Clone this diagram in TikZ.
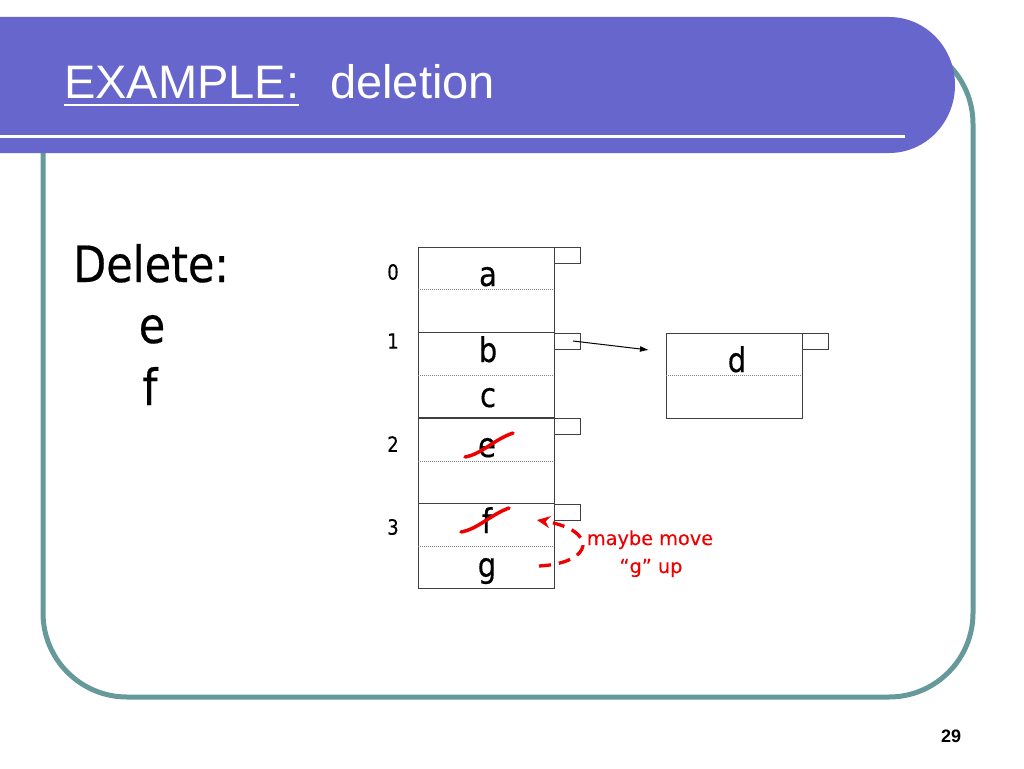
\documentclass[tikz,border=0pt]{standalone}
\usepackage{fontspec}
\usetikzlibrary{arrows.meta}
\newfontfamily\titlefont{Liberation Sans}
\newfontfamily\tahomafont[FakeStretch=0.86,FakeBold=0.3]{DejaVu Sans}
\newfontfamily\verdanafont[FakeBold=0.2]{DejaVu Sans}
\definecolor{barcol}{HTML}{6666CC}
\definecolor{framecol}{HTML}{669999}
\definecolor{cellline}{HTML}{404040}
\definecolor{notered}{HTML}{EE0000}
\begin{document}
\begin{tikzpicture}[x=1pt,y=-1pt,
  bucket/.style={draw=cellline, line width=0.9pt, minimum width=136pt, minimum height=85pt, inner sep=0pt, outer sep=0pt},
  ptrbox/.style={draw=cellline, line width=0.9pt, minimum width=26pt, minimum height=16pt, inner sep=0pt, outer sep=0pt},
  dotline/.style={draw=gray, line width=0.8pt, dash pattern=on 1pt off 1pt},
  cell/.style={font=\tahomafont\fontsize{34}{40}\selectfont, anchor=base, inner sep=0pt},
  idx/.style={font=\tahomafont\fontsize{21}{24}\selectfont, anchor=center, inner sep=0pt},
  big/.style={font=\tahomafont\fontsize{50}{60}\selectfont, anchor=base, inner sep=0pt},
  strike/.style={draw=notered, line width=3.5pt, line cap=round},
  note/.style={font=\verdanafont\fontsize{19.3}{23}\selectfont, text=notered, anchor=base, inner sep=0pt}
]
\useasboundingbox (0,0) rectangle (1024,768);
\fill[white] (0,0) rectangle (1024,768);
% frame
\draw[framecol, line width=5pt, rounded corners=84pt] (43,40) rectangle (973,697);
% title bar
\fill[barcol] (0,17) -- (889,17) to[out=0,in=90] (955,85) to[out=-90,in=0] (889,153) -- (0,153) -- cycle;
\draw[white, line width=3pt] (0,136.5) -- (905,136.5);
\node[font=\titlefont\fontsize{47}{56}\selectfont, text=white, anchor=base west, inner sep=0pt] (t1) at (64,98) {EXAMPLE:};
\draw[white, line width=2pt] ([yshift=-7pt]t1.base west) -- ([yshift=-7pt]t1.base east);
\node[font=\titlefont\fontsize{47}{56}\selectfont, text=white, anchor=base west, inner sep=0pt] (t2) at (330,98) {deletion};
% left text
\node[big, anchor=base west] (del) at (73,282) {Delete:};
\node[big] (dele) at (152,343) {e};
\node[big] (delf) at (150,405) {f};
% buckets
\node[bucket] (b0) at (486,289.5) {};
\node[bucket] (b1) at (486,375) {};
\node[bucket] (b2) at (486,461) {};
\node[bucket] (b3) at (486,546) {};
\node[bucket] (bd) at (734,375.5) {};
\foreach \b in {b0,b1,b2,b3,bd} \draw[dotline] (\b.west) -- (\b.east);
\node[ptrbox] (p0) at (567,255.5) {};
\node[ptrbox] (p1) at (567,341) {};
\node[ptrbox] (p2) at (567,426.5) {};
\node[ptrbox] (p3) at (567,512) {};
\node[ptrbox] (pd) at (815,341) {};
% index labels
\node[idx] (l0) at (393,272) {0};
\node[idx] (l1) at (393,341) {1};
\node[idx] (l2) at (393,444) {2};
\node[idx] (l3) at (393,527) {3};
% cell contents
\node[cell] (ta) at (488,286) {a};
\node[cell] (tb) at (488,362) {b};
\node[cell] (tc) at (488,407) {c};
\node[cell] (te) at (487,457) {e};
\node[cell] (tf) at (487,533) {f};
\node[cell] (tg) at (487,577) {g};
\node[cell] (td) at (737,372) {d};
% pointer
\coordinate (dtip) at (649,350);
\draw[black, line width=1pt, -{Latex[length=9pt,width=6pt]}] ([xshift=6pt]p1.center) -- (dtip);
% strikes
\draw[strike] (465,457) .. controls (482,454) and (493,440) .. (513,433);
\draw[strike] (461,532) .. controls (478,529) and (490,515) .. (509,508);
% dashed move arrow
\coordinate (gstart) at (539,566);
\coordinate (ftip) at (537,520);
\draw[notered, line width=3.3pt, dash pattern=on 12pt off 8pt, -{Stealth[length=13pt,width=12pt]}] (gstart) .. controls (595,563) and (598,530) .. (ftip);
\node[note] (n1) at (650,545) {maybe move};
\node[note] (n2) at (651,573) {“g” up};
% page number
\node[font=\titlefont\bfseries\fontsize{18}{22}\selectfont, anchor=base, inner sep=0pt] (pg) at (951,742) {29};
\end{tikzpicture}
\end{document}
